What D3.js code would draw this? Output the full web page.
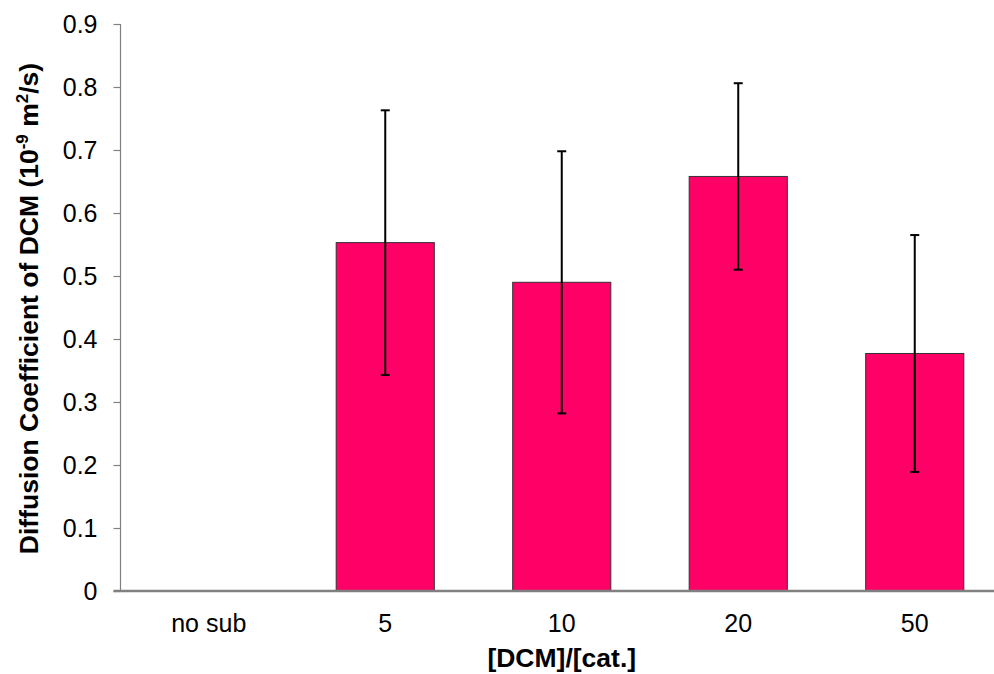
<!DOCTYPE html>
<html>
<head>
<meta charset="utf-8">
<script src="https://cdn.jsdelivr.net/npm/d3@7"></script>
<style>
  html, body { margin: 0; padding: 0; background: #fff; }
  text { font-family: "Liberation Sans", Arial, sans-serif; }
</style>
</head>
<body>
<svg id="chart" width="994" height="674"></svg>
<script>
// Diffusion coefficient of DCM per substrate ratio, mean ± error
const categories = ["no sub", "5", "10", "20", "50"];
const values = [0, 0.553, 0.490, 0.658, 0.377];
const errors = [0, 0.210, 0.208, 0.148, 0.188];
const yTicks = [0, 0.1, 0.2, 0.3, 0.4, 0.5, 0.6, 0.7, 0.8, 0.9];

const svg = d3.select("#chart");
const plotLeft = 120.5, plotRight = 1003, plotTop = 24, plotBottom = 591;

const x = d3.scaleBand()
  .domain(categories)
  .range([plotLeft, plotRight])
  .paddingInner(0.444)
  .paddingOuter(0.222);

const y = d3.scaleLinear().domain([0, 0.9]).range([plotBottom, plotTop]);

// bars
svg.append("g").selectAll("rect")
  .data(values)
  .join("rect")
  .attr("x", (d, i) => x(categories[i]))
  .attr("width", x.bandwidth())
  .attr("y", d => y(d))
  .attr("height", d => plotBottom - y(d))
  .attr("fill", "#ff0066")
  .attr("stroke", "#333")
  .attr("stroke-width", 1);

// error bars
const eg = svg.append("g").attr("stroke", "#000").attr("stroke-width", 2);
values.forEach((v, i) => {
  const cx = x(categories[i]) + x.bandwidth() / 2;
  const hi = y(v + errors[i]), lo = y(v - errors[i]);
  if (errors[i] > 0) {
    eg.append("line").attr("x1", cx).attr("x2", cx).attr("y1", hi).attr("y2", lo);
  }
  [hi, lo].forEach(yy => {
    eg.append("line").attr("x1", cx - 4.5).attr("x2", cx + 4.5).attr("y1", yy).attr("y2", yy);
  });
});

// y axis
const yAxis = svg.append("g")
  .attr("transform", `translate(${plotLeft},0)`)
  .call(d3.axisLeft(y).tickValues(yTicks).tickSize(7).tickPadding(16)
    .tickFormat(d => d === 0 ? "0" : d3.format(".1f")(d)));
yAxis.selectAll("path, line").attr("stroke", "#808080").attr("stroke-width", 1.2);
yAxis.select(".domain").attr("d", `M0,${plotTop}V${plotBottom}`);
yAxis.selectAll("text").attr("font-size", 25).attr("fill", "#000")
  .style("font-family", "Liberation Sans, Arial, sans-serif");

// x axis
const xAxis = svg.append("g")
  .attr("transform", `translate(0,${plotBottom})`)
  .call(d3.axisBottom(x).tickSize(0).tickPadding(23));
xAxis.select(".domain").attr("stroke", "#808080").attr("stroke-width", 2.5)
  .attr("d", `M${plotLeft - 7},0H${plotRight}`);
xAxis.selectAll("text").attr("font-size", 25).attr("fill", "#000")
  .style("font-family", "Liberation Sans, Arial, sans-serif");

// axis titles
svg.append("text")
  .attr("x", (plotLeft + plotRight) / 2)
  .attr("y", 667)
  .attr("text-anchor", "middle")
  .attr("font-size", 26.5)
  .attr("font-weight", "bold")
  .text("[DCM]/[cat.]");

const yt = svg.append("text")
  .attr("transform", `translate(38,${(plotTop + plotBottom) / 2 + 1}) rotate(-90)`)
  .attr("text-anchor", "middle")
  .attr("font-size", 26.5)
  .attr("font-weight", "bold");
yt.append("tspan").text("Diffusion Coefficient of DCM (10");
yt.append("tspan").attr("font-size", 17).attr("dy", -10).text("-9");
yt.append("tspan").attr("dy", 10).text(" m");
yt.append("tspan").attr("font-size", 17).attr("dy", -10).text("2");
yt.append("tspan").attr("dy", 10).text("/s)");
</script>
</body>
</html>
